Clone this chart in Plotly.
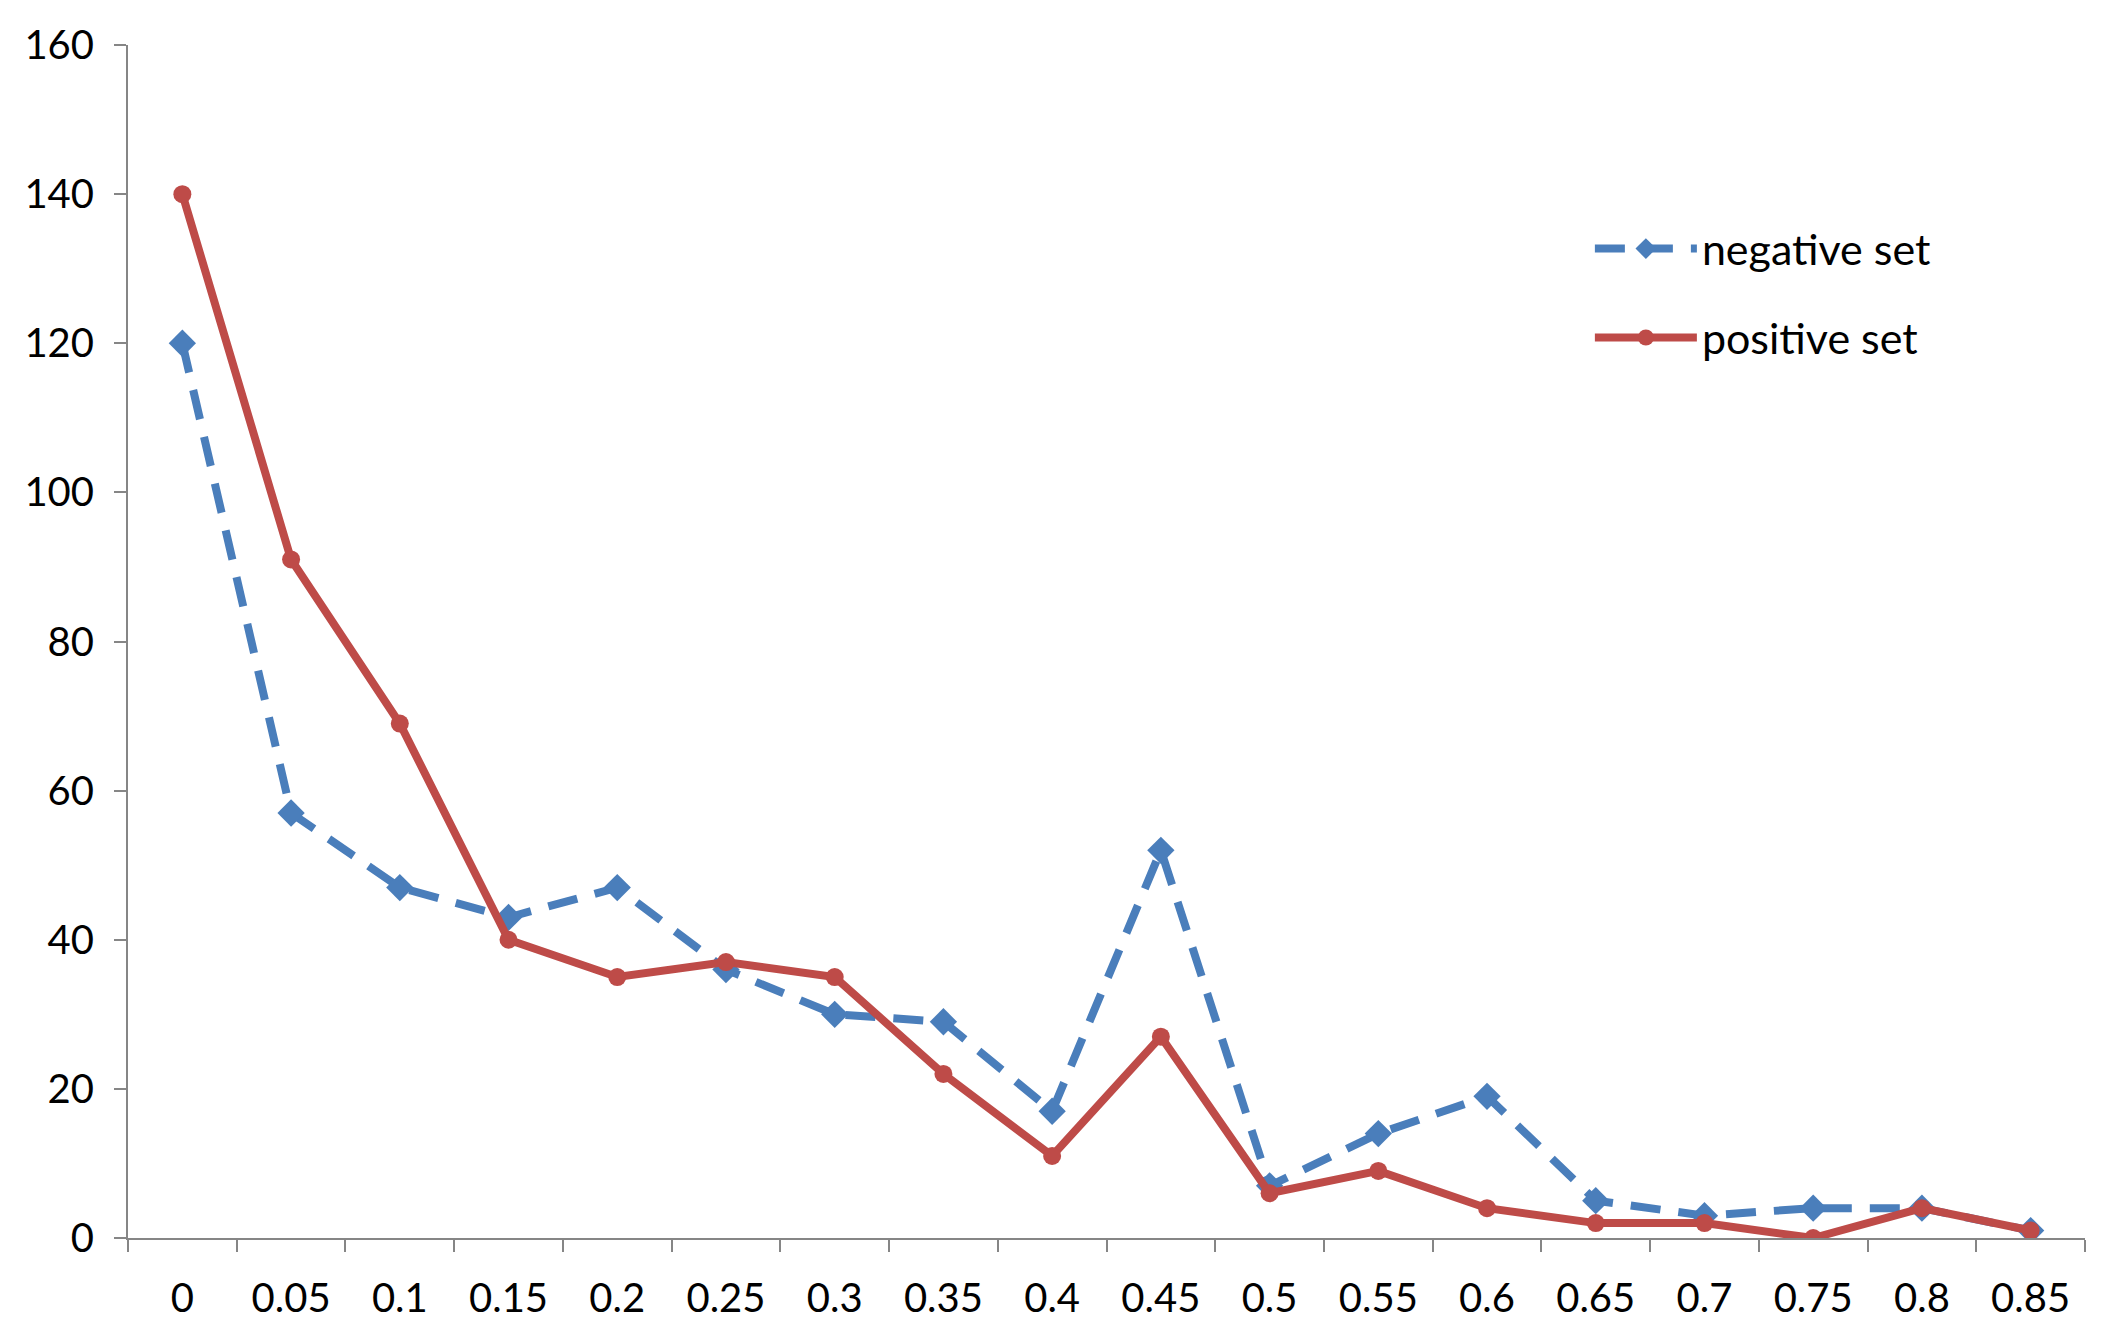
import plotly.graph_objects as go

categories = ["0", "0.05", "0.1", "0.15", "0.2", "0.25", "0.3", "0.35", "0.4",
              "0.45", "0.5", "0.55", "0.6", "0.65", "0.7", "0.75", "0.8", "0.85"]
negative_set = [120, 57, 47, 43, 47, 36, 30, 29, 17, 52, 7, 14, 19, 5, 3, 4, 4, 1]
positive_set = [140, 91, 69, 40, 35, 37, 35, 22, 11, 27, 6, 9, 4, 2, 2, 0, 4, 1]
y_ticks = [0, 20, 40, 60, 80, 100, 120, 140, 160]

BLUE = "#4A7EBB"
RED = "#BE4B48"
AXIS = "#868686"
FONT = "Lato"

fig = go.Figure()
fig.add_trace(go.Scatter(
    x=categories, y=negative_set, name="negative set", mode="lines+markers",
    line=dict(color=BLUE, width=8, dash="30px,18px"),
    marker=dict(symbol="diamond", size=21, color=BLUE),
    legendgroup="neg",
))
fig.add_trace(go.Scatter(
    x=categories, y=positive_set, name="positive set", mode="lines+markers",
    line=dict(color=RED, width=8),
    marker=dict(symbol="circle", size=18, color=RED),
    legendgroup="pos",
))

fig.update_layout(
    width=2105, height=1325,
    margin=dict(l=120, r=28, t=28, b=93),
    paper_bgcolor="white", plot_bgcolor="white",
    font=dict(family=FONT, size=40, color="#000000"),
    showlegend=True,
    legend=dict(
        x=0.747, y=0.792, xanchor="left", yanchor="middle",
        font=dict(family=FONT, size=43, color="#000000"),
        itemwidth=102, tracegroupgap=30, bgcolor="rgba(0,0,0,0)",
    ),
    xaxis=dict(
        type="category", range=[-0.5, 17.5],
        showline=True, linecolor=AXIS, linewidth=2,
        ticks="outside", tickson="boundaries", ticklen=12, tickwidth=2, tickcolor=AXIS,
        showgrid=False, zeroline=False, ticklabelstandoff=24,
        tickfont=dict(family=FONT, size=40, color="#000000"),
    ),
    yaxis=dict(
        range=[0, 160], tickvals=y_ticks,
        showline=True, linecolor=AXIS, linewidth=2,
        ticks="outside", ticklen=12, tickwidth=2, tickcolor=AXIS,
        showgrid=False, zeroline=False, ticklabelstandoff=12,
        tickfont=dict(family=FONT, size=40, color="#000000"),
    ),
)

fig.write_html("out.html")
